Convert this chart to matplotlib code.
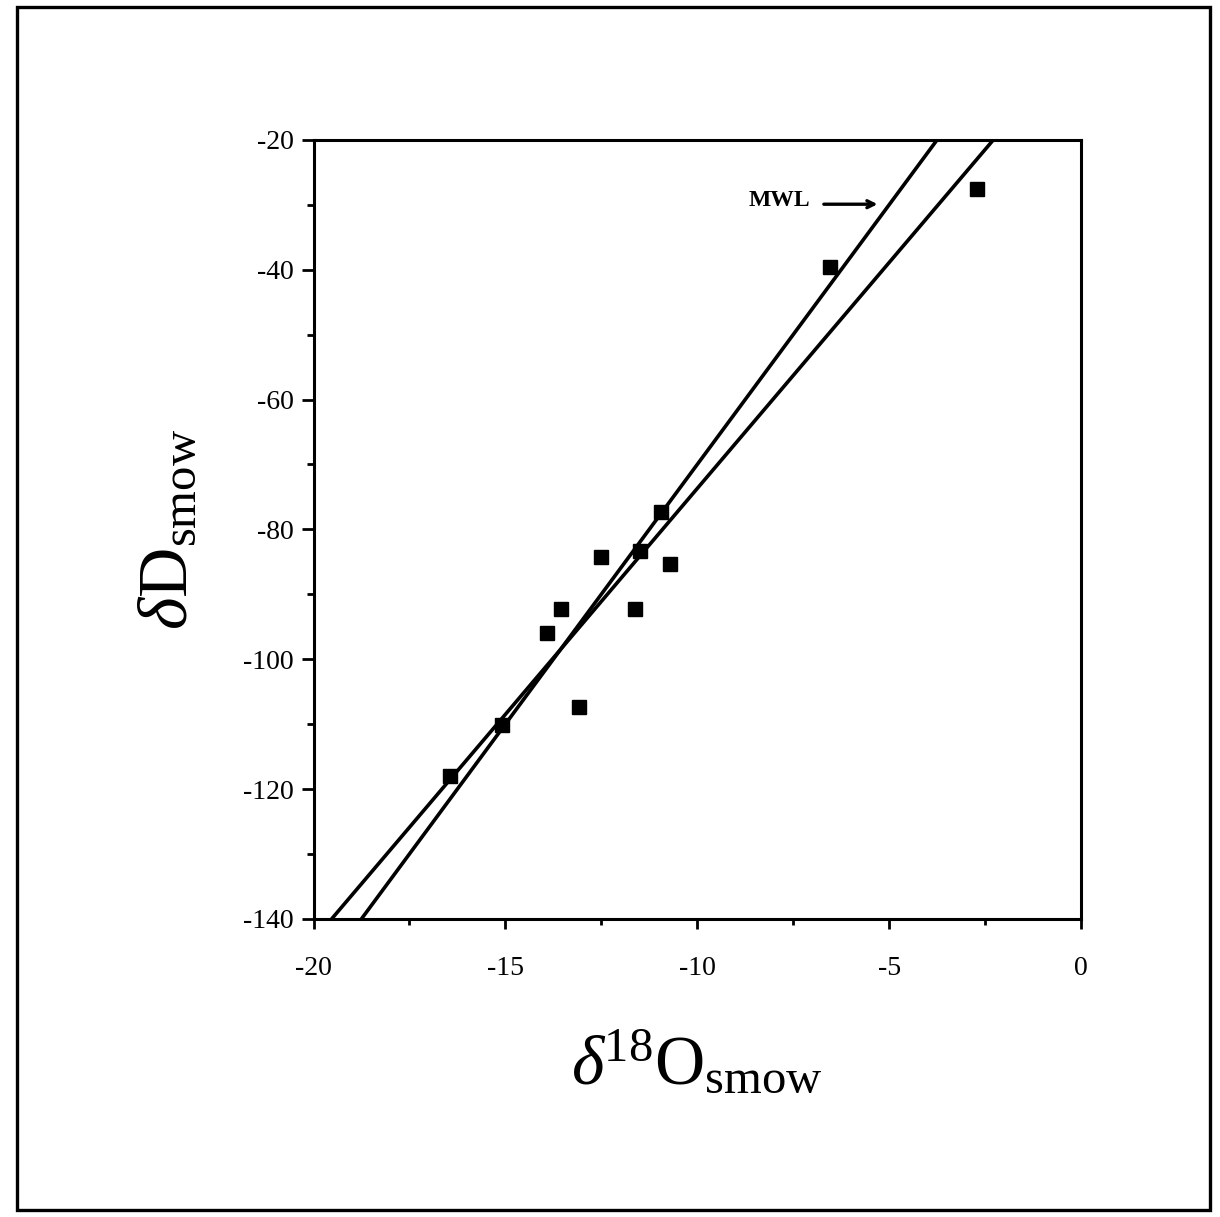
import numpy as np
import matplotlib
matplotlib.use('Agg')
import matplotlib.pyplot as plt
from matplotlib.patches import Rectangle

plt.rcParams['font.family'] = ['Liberation Serif', 'DejaVu Serif']
plt.rcParams['mathtext.fontset'] = 'custom'
plt.rcParams['mathtext.rm'] = 'Liberation Serif'
plt.rcParams['mathtext.it'] = 'Liberation Serif:italic'
plt.rcParams['axes.unicode_minus'] = False

# sample values
d18O = [-16.45, -15.08, -13.91, -13.55, -13.07, -12.52, -11.62, -11.48, -10.94, -10.72, -6.53, -2.70]
dD = [-118.0, -110.1, -96.0, -92.3, -107.4, -84.3, -92.3, -83.3, -77.3, -85.3, -39.6, -27.6]

# meteoric water line and local line (slope, intercept)
mwl = (8.0, 10.0)
local = (6.96, -4.1)

fig = plt.figure(figsize=(12.2, 12.17), dpi=100)

# page border
fig.patches.append(Rectangle((0.014, 0.006), 0.978, 0.988, transform=fig.transFigure,
                             fill=False, lw=2.4, ec='black'))

ax = fig.add_axes([0.257, 0.245, 0.629, 0.640])

xs = np.array([-20.0, 0.0])
ax.plot(xs, mwl[0] * xs + mwl[1], color='black', lw=2.6)
ax.plot(xs, local[0] * xs + local[1], color='black', lw=2.6)
ax.plot(d18O, dD, 's', color='black', ms=9.5, zorder=3)

ax.set_xlim(-20, 0)
ax.set_ylim(-140, -20)
ax.set_xticks(np.arange(-20, 1, 5))
ax.set_xticks(np.arange(-17.5, 0, 5), minor=True)
ax.set_yticks(np.arange(-140, -19, 20))
ax.set_yticks(np.arange(-130, -20, 20), minor=True)

for s in ax.spines.values():
    s.set_linewidth(2.2)
ax.tick_params(axis='both', which='major', direction='out', width=2, labelsize=20)
ax.tick_params(axis='y', which='major', length=9, pad=5)
ax.tick_params(axis='y', which='minor', length=5, width=2)
ax.tick_params(axis='x', which='major', length=7, pad=20)
ax.tick_params(axis='x', which='minor', length=4, width=2)

ax.set_xlabel(r'$\it{\delta}$$^{\rm 18}$O$_{\rm smow}$', fontsize=50, labelpad=36)
ax.set_ylabel(r'$\delta$D$_{\rm smow}$', fontsize=50, labelpad=30)

ax.text(-7.85, -29.3, 'MWL', fontsize=17, fontweight='bold', ha='center', va='center')
ax.annotate('', xy=(-5.3, -29.9), xytext=(-6.7, -29.9),
            arrowprops=dict(arrowstyle='->,head_length=0.5,head_width=0.25', lw=2.4,
                            color='black', shrinkA=0, shrinkB=0))

fig.savefig('out.png', dpi=100)
